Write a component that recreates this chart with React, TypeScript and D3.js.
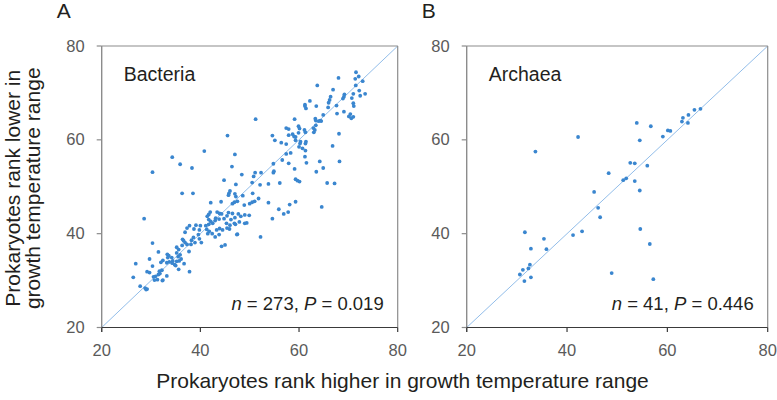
import React from "react";
import * as d3 from "d3";

const tickValues = [20, 40, 60, 80];

const bacteriaX = [
  71.55, 72.1, 71.4, 72.9, 68.0, 71.5, 63.7, 66.9, 72.2, 71.0, 73.4, 69.2, 69.1, 72.4, 66.4, 70.7, 68.9, 66.2, 62.2, 66.0,
  61.2, 61.2, 67.6, 71.0, 71.1, 63.5, 61.4, 69.1, 65.9, 67.7, 70.4, 71.0, 70.1, 70.6, 64.9, 63.3, 64.0, 64.3, 64.5, 63.4,
  59.1, 63.4, 51.2, 57.4, 57.9, 59.9, 60.1, 61.1, 62.9, 63.2, 63.0, 61.3, 59.9, 58.7, 57.9, 59.3, 59.0, 68.1, 59.3, 60.3,
  61.4, 61.3, 54.6, 55.1, 56.4, 57.4, 60.2, 60.0, 60.7, 45.5, 66.8, 61.3, 57.4, 58.3, 61.2, 47.0, 40.8, 34.3, 56.6, 57.9,
  61.5, 64.2, 68.2, 35.9, 54.8, 46.4, 38.3, 30.3, 59.1, 51.1, 52.3, 54.9, 54.8, 63.5, 64.9, 48.4, 50.8, 44.8, 59.3, 59.7,
  60.1, 50.5, 56.1, 65.7, 67.2, 47.2, 52.1, 53.8, 46.0, 45.8, 45.7, 36.3, 38.5, 47.0, 47.2, 50.6, 48.6, 51.8,
  42.1, 44.2, 46.5, 46.9, 47.5, 48.9, 50.0, 50.5, 51.0, 53.8, 55.9, 58.1, 59.3, 64.6, 56.9, 57.8, 54.6, 49.9, 49.0, 48.2,
  47.7, 47.0, 46.5, 49.4, 49.0, 47.9, 46.9, 46.2, 45.4, 44.8, 45.7, 44.3, 43.9, 43.4, 42.0, 41.7, 41.4, 41.7, 42.1, 43.0,
  43.1, 43.8, 41.1, 41.7, 42.5, 45.3, 46.0, 47.1, 40.0, 39.1, 38.7, 39.8, 41.3, 41.8, 41.5, 42.4, 43.3, 43.9, 44.5, 45.4,
  45.9, 47.4, 47.5, 52.2, 43.0, 43.8, 36.9, 37.3, 37.8, 39.6, 39.8, 40.2, 38.6, 38.2, 38.9, 36.4, 36.9, 36.6, 36.3, 37.3,
  38.1, 44.3, 45.0, 35.2, 35.6, 35.2, 37.7, 30.3, 31.5, 35.5, 35.9, 36.1, 35.7, 35.2, 33.3, 33.6, 33.4, 34.2, 34.4, 33.7,
  33.2, 34.3, 34.8, 32.4, 32.0, 36.7, 29.7, 26.9, 32.2, 31.7, 30.3, 35.6, 35.0, 37.8, 29.2, 29.7, 31.8, 31.5, 30.9, 30.5,
  31.3, 32.3, 33.2, 32.4, 30.7, 26.4, 27.8, 28.8, 29.2, 29.0, 28.6,
];
const bacteriaY = [
  74.4, 73.5, 73.0, 72.5, 73.2, 71.6, 71.6, 70.7, 70.5, 69.8, 69.8, 69.7, 69.2, 69.4, 69.2, 68.9, 68.8, 68.5, 68.3, 67.9,
  67.5, 67.2, 67.3, 67.8, 67.2, 67.2, 66.7, 66.0, 66.9, 65.6, 65.5, 64.9, 65.0, 64.6, 65.3, 64.5, 64.0, 64.1, 64.0, 64.1,
  64.4, 63.1, 64.4, 62.5, 62.3, 62.9, 62.4, 62.1, 62.5, 62.1, 61.6, 61.6, 61.5, 61.2, 61.0, 60.6, 60.7, 61.3, 59.9, 59.6,
  59.6, 59.2, 60.9, 59.9, 59.4, 59.1, 59.2, 58.5, 58.2, 60.9, 58.7, 57.7, 57.0, 57.2, 56.4, 56.9, 57.6, 56.3, 55.7, 55.0,
  55.1, 55.4, 55.4, 54.8, 54.9, 54.3, 54.0, 53.1, 53.8, 53.0, 53.0, 53.3, 53.0, 53.2, 54.0, 52.6, 52.2, 51.4, 51.6, 51.3,
  51.1, 50.9, 50.8, 50.8, 50.7, 50.5, 50.4, 50.6, 49.1, 48.6, 48.2, 48.6, 48.6, 48.5, 47.9, 48.6, 48.1, 47.5,
  46.6, 46.8, 46.4, 46.7, 46.9, 46.1, 46.4, 46.7, 46.9, 46.6, 45.2, 46.2, 46.8, 45.7, 44.2, 44.6, 43.2, 43.9, 44.0, 43.7,
  44.2, 43.4, 44.3, 42.3, 42.2, 42.5, 42.2, 43.0, 43.8, 43.2, 44.5, 44.2, 44.3, 44.6, 44.6, 44.1, 43.7, 43.0, 42.6, 42.8,
  43.3, 43.1, 41.7, 42.0, 42.2, 42.2, 41.8, 42.0, 41.7, 41.8, 41.0, 40.8, 40.9, 40.5, 40.0, 40.0, 40.8, 41.1, 40.8, 41.2,
  41.0, 39.8, 39.9, 39.3, 39.3, 39.8, 40.3, 41.2, 41.7, 39.8, 38.9, 38.1, 39.2, 38.6, 38.1, 38.8, 38.1, 38.5, 37.5, 37.7,
  37.7, 37.3, 37.6, 37.1, 36.6, 35.9, 36.2, 38.0, 36.1, 35.1, 35.5, 34.6, 34.2, 34.1, 35.6, 35.3, 34.9, 34.9, 34.2, 34.0,
  33.8, 33.7, 33.4, 34.3, 33.9, 33.6, 34.6, 33.6, 32.2, 32.0, 33.1, 32.4, 33.2, 31.9, 31.9, 31.7, 31.5, 31.3, 30.9, 30.8,
  30.2, 30.0, 31.0, 30.1, 30.1, 30.7, 28.8, 28.4, 28.2, 28.1, 43.2,
];

const archaeaX = [
  66.6, 65.4, 64.2, 63.1, 62.9, 64.1, 60.1, 60.6, 59.1, 53.9, 56.7, 54.5, 42.2, 33.7, 52.6, 53.5, 56.0, 48.3, 51.8, 51.2,
  53.5, 54.5, 45.4, 46.2, 46.6, 54.6, 56.5, 48.9, 57.2, 41.2, 43.0, 31.6, 35.4, 32.8, 35.9, 32.6, 32.3, 31.2, 30.6, 31.5,
  32.8,
];
const archaeaY = [
  66.6, 66.4, 65.3, 64.7, 63.9, 63.6, 62.0, 61.9, 60.7, 63.6, 62.9, 59.9, 60.6, 57.5, 55.1, 55.0, 54.5, 52.9, 51.8, 51.4,
  51.2, 49.2, 48.9, 45.5, 43.5, 41.0, 37.8, 31.6, 30.3, 39.7, 40.5, 40.3, 38.9, 36.8, 36.7, 33.4, 32.6, 32.3, 31.3, 29.9,
  30.7,
];

const FONT = "'Liberation Sans', Arial, Helvetica, sans-serif";
const DOT = "#3a86cf";
const DIAG = "#86b6e6";
const FRAME = "#8c8c8c";
const TICKTXT = "#5a5a5a";
const TXT = "#231f20";

type PanelProps = {
  left: number;
  right: number;
  top: number;
  bottom: number;
  xs: number[];
  ys: number[];
  label: string;
  name: string;
  nText: string;
  pText: string;
};

function Panel({ left, right, top, bottom, xs, ys, label, name, nText, pText }: PanelProps) {
  const x = d3.scaleLinear().domain([20, 80]).range([left, right]);
  const y = d3.scaleLinear().domain([20, 80]).range([bottom, top]);
  const line = d3.line<number>().x((d) => x(d)).y((d) => y(d));
  return (
    <g>
      <path d={line([20, 80]) || ""} stroke={DIAG} strokeWidth={0.9} fill="none" />
      {xs.map((v, i) => (
        <circle key={i} cx={x(v)} cy={y(ys[i])} r={1.9} fill={DOT} />
      ))}
      <line x1={left} x2={right} y1={top} y2={top} stroke={FRAME} strokeWidth={1.2} />
      <line x1={right} x2={right} y1={top} y2={bottom} stroke={FRAME} strokeWidth={1.2} />
      <line x1={left} x2={left} y1={top} y2={bottom + 4.5} stroke={FRAME} strokeWidth={1.4} />
      <line x1={left} x2={right} y1={bottom} y2={bottom} stroke="#3a3a3a" strokeWidth={1.2} />
      {tickValues.map((t) => (
        <g key={"y" + t}>
          <line x1={left - 5} x2={left} y1={y(t)} y2={y(t)} stroke={FRAME} strokeWidth={1.2} />
          <text x={left - 17} y={y(t) + 5.5} textAnchor="end" fontSize={16.5} fill={TICKTXT} fontFamily={FONT}>
            {t}
          </text>
        </g>
      ))}
      {tickValues.map((t) => (
        <g key={"x" + t}>
          <line x1={x(t)} x2={x(t)} y1={bottom} y2={bottom + 4.5} stroke="#3a3a3a" strokeWidth={1.2} />
          <text x={x(t)} y={bottom + 28} textAnchor="middle" fontSize={16.5} fill={TICKTXT} fontFamily={FONT}>
            {t}
          </text>
        </g>
      ))}
      <text x={left + 22} y={81} fontSize={19.5} fill={TXT} fontFamily={FONT}>
        {name}
      </text>
      <text x={right - 14} y={310} textAnchor="end" fontSize={18.5} fill={TXT} fontFamily={FONT}>
        <tspan fontStyle="italic">n</tspan>
        {" = " + nText + ", "}
        <tspan fontStyle="italic">P</tspan>
        {" = " + pText}
      </text>
      <text x={left - 45} y={18.3} fontSize={21} fill={TXT} fontFamily={FONT}>
        {label}
      </text>
    </g>
  );
}

export default function App() {
  const top = 46;
  const bottom = 327.5;
  return (
    <svg
      width={777}
      height={400}
      style={{ position: "absolute", left: 0, top: 0, background: "#fff" }}
    >
      <rect width={777} height={400} fill="#fff" />
      <Panel
        left={101.7}
        right={397.7}
        top={top}
        bottom={bottom}
        xs={bacteriaX}
        ys={bacteriaY}
        label="A"
        name="Bacteria"
        nText="273"
        pText="0.019"
      />
      <Panel
        left={466.7}
        right={767.7}
        top={top}
        bottom={bottom}
        xs={archaeaX}
        ys={archaeaY}
        label="B"
        name="Archaea"
        nText="41"
        pText="0.446"
      />
      <g transform={`translate(0, ${(top + bottom) / 2 + 1.5}) rotate(-90)`}>
        <text x={0} y={19.5} textAnchor="middle" fontSize={21} fill={TXT} fontFamily={FONT}>
          Prokaryotes rank lower in
        </text>
        <text x={0} y={40} textAnchor="middle" fontSize={21} fill={TXT} fontFamily={FONT}>
          growth temperature range
        </text>
      </g>
      <text x={402.5} y={388} textAnchor="middle" fontSize={21} fill={TXT} fontFamily={FONT}>
        Prokaryotes rank higher in growth temperature range
      </text>
    </svg>
  );
}
